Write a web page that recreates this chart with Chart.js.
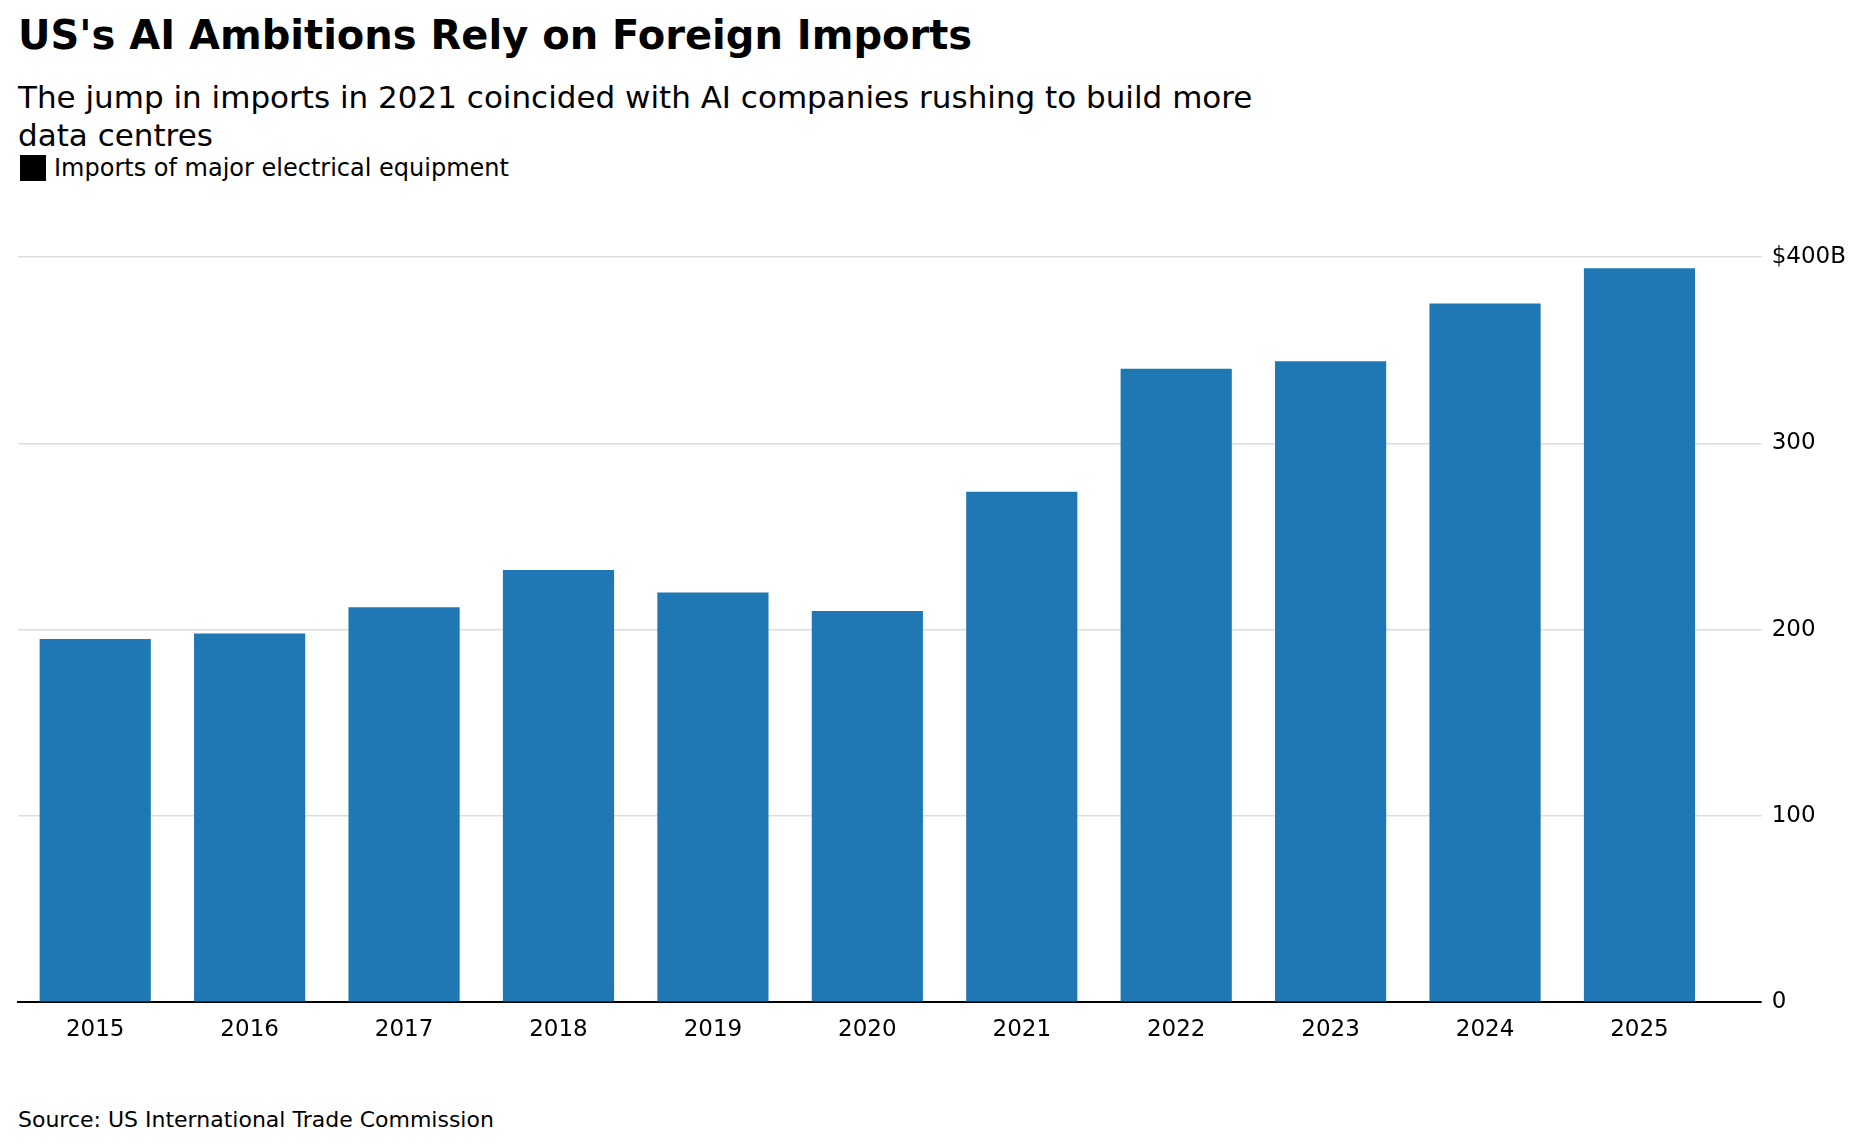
<!DOCTYPE html>
<html>
<head>
<meta charset="utf-8">
<script src="https://cdn.jsdelivr.net/npm/chart.js@4"></script>
<style>
  body { margin: 0; width: 1864px; height: 1144px; background: #fff; font-family: "DejaVu Sans", sans-serif; position: relative; overflow: hidden; }
  h1 { position: absolute; left: 18px; top: 12px; margin: 0; font-size: 40px; font-weight: bold; }
  .sub { position: absolute; left: 18px; top: 78px; font-size: 31px; line-height: 38px; width: 1250px; }
  .legend { position: absolute; left: 20px; top: 154px; font-size: 24px; display: flex; align-items: center; }
  .legend span.box { display: inline-block; width: 26px; height: 26px; background: #000; margin-right: 8px; }
  .src { position: absolute; left: 18px; top: 1107px; font-size: 22px; }
  #wrap { position: absolute; left: 0; top: 230px; width: 1864px; height: 830px; }
</style>
</head>
<body>
<h1>US's AI Ambitions Rely on Foreign Imports</h1>
<div class="sub">The jump in imports in 2021 coincided with AI companies rushing to build more data centres</div>
<div class="legend"><span class="box"></span>Imports of major electrical equipment</div>
<div id="wrap"><canvas id="c"></canvas></div>
<div class="src">Source: US International Trade Commission</div>
<script>
/* ── Data ── */
const years = ['2015', '2016', '2017', '2018', '2019', '2020', '2021', '2022', '2023', '2024', '2025'];
const imports = [195, 198, 212, 232, 220, 210, 274, 340, 344, 375, 394];
const yTicks = [0, 100, 200, 300, 400];

new Chart(document.getElementById('c'), {
    type: 'bar',
    data: {
        labels: years,
        datasets: [{
            label: 'Imports of major electrical equipment',
            data: imports,
            backgroundColor: '#1f77b4',
            categoryPercentage: 1,
            barPercentage: 0.72
        }]
    },
    options: {
        responsive: true,
        maintainAspectRatio: false,
        animation: false,
        layout: { padding: { left: 18, right: 8, top: 27, bottom: 10 } },
        plugins: { legend: { display: false }, tooltip: { enabled: false } },
        scales: {
            x: {
                grid: { display: false },
                border: { display: true, color: '#000', width: 2 },
                ticks: { color: '#000', font: { size: 23, family: 'DejaVu Sans' }, padding: 6, maxRotation: 0 }
            },
            y: {
                position: 'right',
                min: 0, max: 400,
                afterBuildTicks: axis => { axis.ticks = yTicks.map(v => ({ value: v })); },
                grid: {
                    color: c => c.tick && c.tick.value === 0 ? '#000' : '#dddddd',
                    lineWidth: c => c.tick && c.tick.value === 0 ? 2 : 1.5,
                    tickLength: 45
                },
                border: { display: false },
                ticks: {
                    color: '#000',
                    font: { size: 23, family: 'DejaVu Sans' },
                    padding: 10,
                    callback: v => v === 400 ? '$400B' : v
                }
            }
        }
    }
});
</script>
</body>
</html>
